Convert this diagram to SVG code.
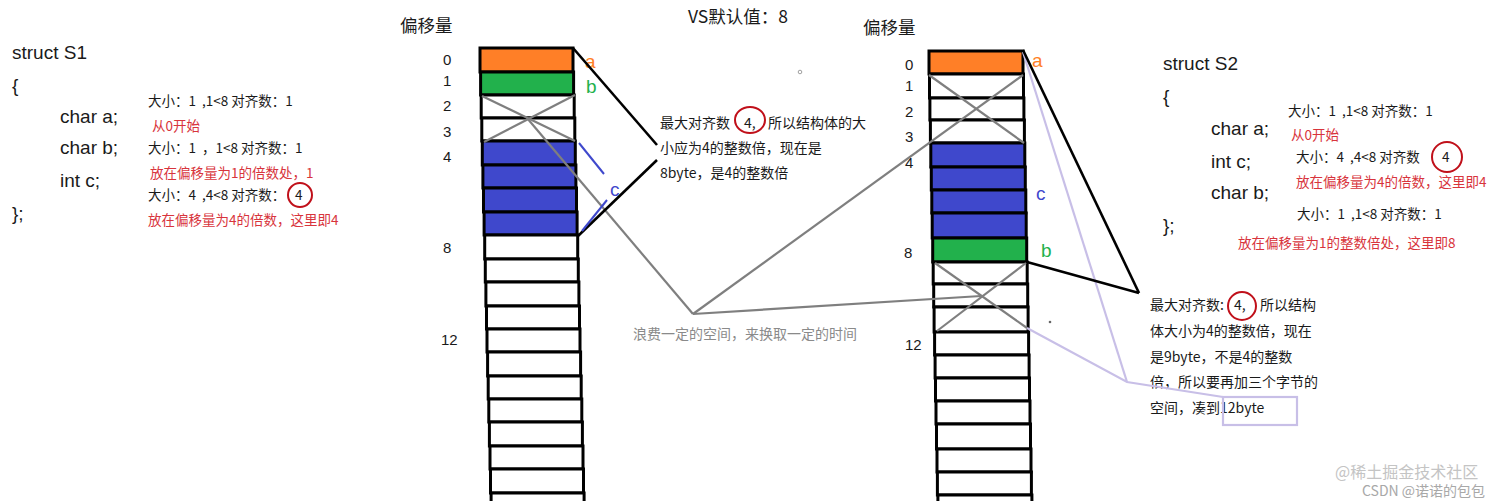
<svg xmlns="http://www.w3.org/2000/svg" width="1512" height="501" viewBox="0 0 1512 501">
<style>
text{font-family:"Noto Sans CJK SC","Liberation Sans",sans-serif;fill:#1a1a1a}
.code{font-family:"Liberation Sans","Noto Sans CJK SC",sans-serif;font-size:19px}
.ann{font-size:13.5px;white-space:pre}
.red{fill:#d8343c}
.note{font-size:14px}
.off{font-family:"Liberation Sans",sans-serif;font-size:15px}
.hdr{font-size:17.5px}
.cell{stroke:#000;stroke-width:3;fill:#fff}
.or{fill:#ff7f27}.gr{fill:#22b14c}.bl{fill:#3f48cc}
.lbl{font-family:"Liberation Sans",sans-serif;font-size:19px}
.gl{stroke:#7f7f7f;stroke-width:2.2;fill:none}
.bk{stroke:#000;stroke-width:2.6;fill:none}
.lv{stroke:#c8bfe7;stroke-width:2.2;fill:none}
.bll{stroke:#3f48cc;stroke-width:2;fill:none}
.circ{stroke:#c0101a;stroke-width:2;fill:none}
</style>

<g id="title">
<text class="hdr" x="688" y="23">VS默认值：8</text>
</g>

<g id="struct-s1">
<text class="code" x="12" y="59">struct S1</text>
<text class="code" x="12" y="92">{</text>
<text class="code" x="60" y="123">char a;</text>
<text class="code" x="60" y="154">char b;</text>
<text class="code" x="60" y="187">int c;</text>
<text class="code" x="12" y="220">};</text>
<text class="ann" x="148" y="106" xml:space="preserve">大小：1  ,1&lt;8 对齐数：1</text>
<text class="ann red" x="152" y="131">从0开始</text>
<text class="ann" x="148" y="153" xml:space="preserve">大小：1  ，1&lt;8 对齐数：1</text>
<text class="ann red" x="150" y="178">放在偏移量为1的倍数处，1</text>
<text class="ann" x="148" y="200" xml:space="preserve">大小：4  ,4&lt;8 对齐数：</text>
<circle class="circ" cx="300" cy="195" r="12"/>
<text class="ann" x="295" y="200">4</text>
<text class="ann red" x="148" y="225">放在偏移量为4的倍数，这里即4</text>
</g>

<g id="column-s1">
<text class="hdr" x="400" y="32">偏移量</text>
<rect class="cell or" x="480" y="48" width="93" height="24"/>
<rect class="cell gr" x="480.6" y="72" width="93" height="23"/>
<rect class="cell" x="481.2" y="95" width="93" height="23"/>
<rect class="cell" x="481.8" y="118" width="93" height="23"/>
<rect class="cell bl" x="482.3" y="141" width="93" height="24"/>
<rect class="cell bl" x="482.9" y="165" width="93" height="23"/>
<rect class="cell bl" x="483.5" y="188" width="93" height="24"/>
<rect class="cell bl" x="484.1" y="212" width="93" height="23"/>
<rect class="cell" x="484.7" y="235" width="93" height="24"/>
<rect class="cell" x="485.3" y="259" width="93" height="23"/>
<rect class="cell" x="485.9" y="282" width="93" height="24"/>
<rect class="cell" x="486.5" y="306" width="93" height="23"/>
<rect class="cell" x="487" y="329" width="93" height="23"/>
<rect class="cell" x="487.6" y="352" width="93" height="24"/>
<rect class="cell" x="488.2" y="376" width="93" height="23"/>
<rect class="cell" x="488.8" y="399" width="93" height="23"/>
<rect class="cell" x="489.4" y="422" width="93" height="24"/>
<rect class="cell" x="490" y="446" width="93" height="23"/>
<rect class="cell" x="490.5" y="469" width="93" height="24"/>
<rect class="cell" x="491.1" y="493" width="93" height="24"/>
<text class="off" x="443" y="65">0</text>
<text class="off" x="443" y="86">1</text>
<text class="off" x="443" y="111">2</text>
<text class="off" x="443" y="137">3</text>
<text class="off" x="443" y="162">4</text>
<text class="off" x="443" y="253">8</text>
<text class="off" x="441" y="345">12</text>
<text class="lbl" x="585" y="68" style="fill:#ff7f27">a</text>
<text class="lbl" x="586" y="93" style="fill:#22b14c">b</text>
<text class="lbl" x="610" y="196" style="fill:#3f48cc">c</text>
</g>

<g id="note-s1">
<text class="note" x="660" y="128">最大对齐数</text>
<ellipse class="circ" cx="750" cy="120" rx="15" ry="13"/>
<text class="note" x="744" y="128">4,</text>
<text class="note" x="768" y="128">所以结构体的大</text>
<text class="note" x="660" y="153">小应为4的整数倍，现在是</text>
<text class="note" x="660" y="178">8byte，是4的整数倍</text>
</g>

<g id="note-waste">
<text class="note" x="633" y="339" style="fill:#8a8a8a">浪费一定的空间，来换取一定的时间</text>
</g>

<g id="column-s2">
<text class="hdr" x="863" y="34">偏移量</text>
<rect class="cell or" x="929" y="51" width="94" height="23"/>
<rect class="cell" x="929.5" y="74" width="94" height="24"/>
<rect class="cell" x="929.9" y="98" width="94" height="22"/>
<rect class="cell" x="930.4" y="120" width="94" height="23"/>
<rect class="cell bl" x="930.8" y="143" width="94" height="24"/>
<rect class="cell bl" x="931.3" y="167" width="94" height="23"/>
<rect class="cell bl" x="931.8" y="190" width="94" height="23"/>
<rect class="cell bl" x="932.2" y="213" width="94" height="25"/>
<rect class="cell gr" x="932.7" y="238" width="94" height="24"/>
<rect class="cell" x="933.2" y="262" width="94" height="22"/>
<rect class="cell" x="933.7" y="284" width="94" height="23"/>
<rect class="cell" x="934.1" y="307" width="94" height="25"/>
<rect class="cell" x="934.6" y="332" width="94" height="23"/>
<rect class="cell" x="935.1" y="355" width="94" height="23"/>
<rect class="cell" x="935.5" y="378" width="94" height="23"/>
<rect class="cell" x="936" y="401" width="94" height="23"/>
<rect class="cell" x="936.5" y="424" width="94" height="25"/>
<rect class="cell" x="937" y="449" width="94" height="23"/>
<rect class="cell" x="937.4" y="472" width="94" height="23"/>
<rect class="cell" x="937.9" y="495" width="94" height="24"/>
<text class="off" x="905" y="70">0</text>
<text class="off" x="905" y="91">1</text>
<text class="off" x="905" y="117">2</text>
<text class="off" x="905" y="142">3</text>
<text class="off" x="905" y="168">4</text>
<text class="off" x="904" y="258">8</text>
<text class="off" x="905" y="350">12</text>
<text class="lbl" x="1032" y="67" style="fill:#ff7f27">a</text>
<text class="lbl" x="1036" y="200" style="fill:#3f48cc">c</text>
<text class="lbl" x="1041" y="257" style="fill:#22b14c">b</text>
</g>

<g id="struct-s2">
<text class="code" x="1163" y="70">struct S2</text>
<text class="code" x="1163" y="103">{</text>
<text class="code" x="1211" y="135">char a;</text>
<text class="code" x="1211" y="168">int c;</text>
<text class="code" x="1211" y="199">char b;</text>
<text class="code" x="1163" y="232">};</text>
<text class="ann" x="1288" y="116" xml:space="preserve">大小：1  ,1&lt;8 对齐数：1</text>
<text class="ann red" x="1291" y="140">从0开始</text>
<text class="ann" x="1296" y="162" xml:space="preserve">大小：4  ,4&lt;8 对齐数</text>
<circle class="circ" cx="1447" cy="157" r="15"/>
<text class="ann" x="1442" y="162">4</text>
<text class="ann red" x="1296" y="187">放在偏移量为4的倍数，这里即4</text>
<text class="ann" x="1297" y="219" xml:space="preserve">大小：1  ,1&lt;8 对齐数：1</text>
<text class="ann red" x="1238" y="248">放在偏移量为1的整数倍处，这里即8</text>
</g>

<g id="note-s2">
<text class="note" x="1150" y="310">最大对齐数:</text>
<circle class="circ" cx="1242" cy="306" r="14"/>
<text class="note" x="1234" y="310">4,</text>
<text class="note" x="1260" y="310">所以结构</text>
<text class="note" x="1150" y="336">体大小为4的整数倍，现在</text>
<text class="note" x="1150" y="362">是9byte，不是4的整数</text>
<text class="note" x="1150" y="387">倍，所以要再加三个字节的</text>
<text class="note" x="1150" y="413">空间，凑到12byte</text>
<rect class="lv" x="1223" y="397" width="74" height="28"/>
</g>

<g id="connectors">
<line class="gl" x1="482" y1="96" x2="575" y2="141"/>
<line class="gl" x1="575" y1="95" x2="484" y2="142"/>
<line class="gl" x1="527" y1="118" x2="693" y2="314"/>
<line class="gl" x1="693" y1="314" x2="1023" y2="75"/>
<line class="gl" x1="693" y1="314" x2="981" y2="296"/>
<line class="gl" x1="929" y1="75" x2="1024" y2="143"/>
<line class="gl" x1="935" y1="263" x2="1027" y2="328"/>
<line class="gl" x1="1026" y1="263" x2="937" y2="331"/>
<polyline class="lv" points="1027,328 1127,382 1223,397"/>
<line class="lv" x1="1023" y1="52" x2="1127" y2="382"/>
<line class="bk" x1="573" y1="48" x2="657" y2="145"/>
<line class="bk" x1="578" y1="236" x2="657" y2="160"/>
<line class="bk" x1="1023" y1="50" x2="1139" y2="293"/>
<line class="bk" x1="1027" y1="262" x2="1139" y2="293"/>
<line class="bll" x1="579" y1="143" x2="604" y2="174"/>
<line class="bll" x1="582" y1="231" x2="607" y2="200"/>
</g>

<g id="marks">
<circle cx="800" cy="72" r="1.8" fill="none" stroke="#888" stroke-width="0.8"/>
<circle cx="1050" cy="322" r="1.3" fill="#666"/>
</g>

<g id="watermark">
<text x="1335" y="478" style="font-size:16px;fill:#c4c4c4">@稀土掘金技术社区</text>
<text x="1362" y="496" style="font-size:14px;fill:#a8a8a8">CSDN @诺诺的包包</text>
</g>
</svg>
